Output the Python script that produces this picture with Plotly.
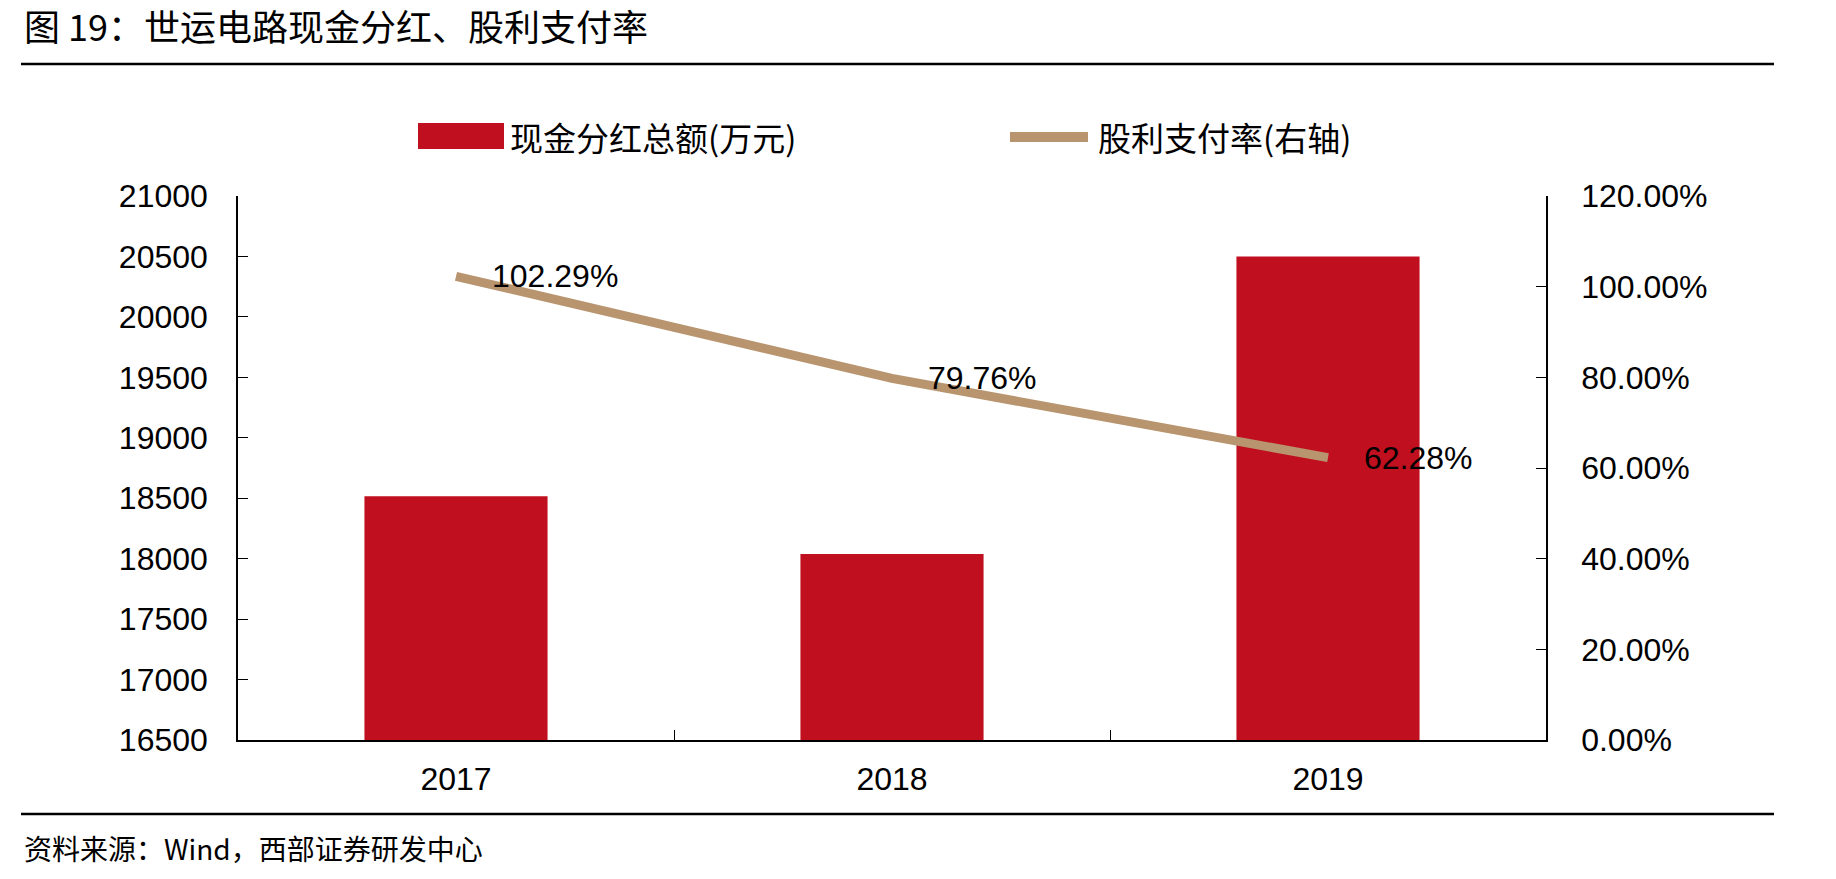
import plotly.graph_objects as go

# ---- data ----
years = ["2017", "2018", "2019"]
dividend_total = [18516, 18038, 20500]          # 现金分红总额(万元)
payout_ratio = [102.29, 79.76, 62.28]            # 股利支付率(%)
left_ticks = [16500, 17000, 17500, 18000, 18500, 19000, 19500, 20000, 20500, 21000]
right_ticks = [0, 20, 40, 60, 80, 100, 120]

W, H = 1836, 879
L, R, T, B = 238, 1546, 196, 740   # plot area in pixels

def px(x):
    return (x - L) / (R - L)

def py(y):
    return (B - y) / (B - T)

RED = "#C00F1E"
TAN = "#B8956F"
NUM_FONT = "Liberation Sans, Arial, sans-serif"
CJK_FONT = "Noto Sans CJK SC, sans-serif"

fig = go.Figure()
fig.add_trace(go.Bar(
    x=years, y=dividend_total, name="现金分红总额(万元)",
    marker=dict(color=RED, line=dict(width=0)), width=0.42,
    yaxis="y", showlegend=False,
))
fig.add_trace(go.Scatter(
    x=years, y=payout_ratio, name="股利支付率(右轴)", mode="lines",
    line=dict(color=TAN, width=9), yaxis="y2", showlegend=False,
))

annotations = []
# data labels for the line (category axes take the serial index)
for i, v in enumerate(payout_ratio):
    annotations.append(dict(x=i, y=v, xref="x", yref="y2", text=f"{v:.2f}%",
                            showarrow=False, xanchor="left", yanchor="middle",
                            xshift=34, yshift=0,
                            font=dict(family=NUM_FONT, size=32, color="black")))

shapes = []
# title
annotations.append(dict(xref="paper", yref="paper", x=px(22), y=py(25),
                        text="图 19：世运电路现金分红、股利支付率", showarrow=False,
                        xanchor="left", yanchor="middle",
                        font=dict(family=CJK_FONT, size=36, color="black")))
shapes.append(dict(type="line", xref="paper", yref="paper", x0=px(21), x1=px(1774),
                   y0=py(64), y1=py(64), line=dict(color="black", width=2.5)))
# footer
shapes.append(dict(type="line", xref="paper", yref="paper", x0=px(21), x1=px(1774),
                   y0=py(814), y1=py(814), line=dict(color="black", width=2.5)))
annotations.append(dict(xref="paper", yref="paper", x=px(22), y=py(848),
                        text="资料来源：Wind，西部证券研发中心", showarrow=False,
                        xanchor="left", yanchor="middle",
                        font=dict(family=CJK_FONT, size=28, color="black")))
# custom legend
shapes.append(dict(type="rect", xref="paper", yref="paper", x0=px(418), x1=px(504),
                   y0=py(149), y1=py(123), fillcolor=RED, line=dict(width=0)))
annotations.append(dict(xref="paper", yref="paper", x=px(508), y=py(137),
                        text="现金分红总额(万元)", showarrow=False,
                        xanchor="left", yanchor="middle",
                        font=dict(family=CJK_FONT, size=33, color="black")))
shapes.append(dict(type="line", xref="paper", yref="paper", x0=px(1010), x1=px(1088),
                   y0=py(137), y1=py(137), line=dict(color=TAN, width=10)))
annotations.append(dict(xref="paper", yref="paper", x=px(1096), y=py(137),
                        text="股利支付率(右轴)", showarrow=False,
                        xanchor="left", yanchor="middle",
                        font=dict(family=CJK_FONT, size=33, color="black")))

fig.update_layout(
    width=W, height=H,
    margin=dict(l=L, r=W - R, t=T, b=H - B, pad=0),
    paper_bgcolor="white", plot_bgcolor="white",
    showlegend=False,
    shapes=shapes,
    annotations=annotations,
    xaxis=dict(
        type="category", range=[-0.5, 2.5],
        showline=True, linecolor="black", linewidth=1.5,
        ticks="inside", ticklen=10, tickcolor="black", tickwidth=1.2,
        tickson="boundaries", showgrid=False, zeroline=False,
        ticklabelstandoff=10,
        tickfont=dict(family=NUM_FONT, size=32, color="black"),
    ),
    yaxis=dict(
        range=[16500, 21000], tickvals=left_ticks,
        ticktext=[str(v) for v in left_ticks],
        showline=True, linecolor="black", linewidth=1.5,
        ticks="inside", ticklen=10, tickcolor="black", tickwidth=1.2,
        showgrid=False, zeroline=False, ticklabelstandoff=22,
        tickfont=dict(family=NUM_FONT, size=32, color="black"),
    ),
    yaxis2=dict(
        range=[0, 120], tickvals=right_ticks,
        ticktext=[f"{v:.2f}%" for v in right_ticks],
        overlaying="y", side="right",
        showline=True, linecolor="black", linewidth=1.5,
        ticks="inside", ticklen=10, tickcolor="black", tickwidth=1.2,
        showgrid=False, zeroline=False, ticklabelstandoff=27,
        tickfont=dict(family=NUM_FONT, size=32, color="black"),
    ),
)

fig.write_html("out.html")
